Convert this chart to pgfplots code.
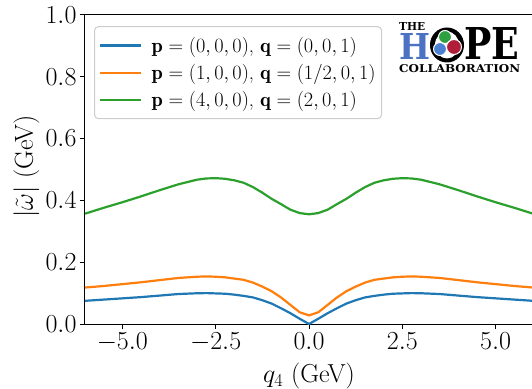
\RequirePackage{fix-cm}
\documentclass[border=0pt]{standalone}
\usepackage{fontspec}
\usepackage{graphicx}
\usepackage{pgfplots}
\pgfplotsset{compat=1.18}
\newfontfamily\logofont{DejaVu Serif}
\definecolor{tabblue}{RGB}{31,119,180}
\definecolor{taborange}{RGB}{255,127,14}
\definecolor{tabgreen}{RGB}{44,160,44}
\definecolor{hopeblue}{RGB}{76,114,196}
\definecolor{hopegreen}{RGB}{46,160,64}
\definecolor{hopered}{RGB}{176,30,58}
\definecolor{hopeblue2}{RGB}{76,128,208}
\begin{document}
\begin{tikzpicture}
\begin{axis}[
  name=ax, at={(0,0)}, anchor=south west,
  scale only axis, width=448bp, height=309bp,
  xmin=-6, xmax=6, ymin=0, ymax=1,
  xtick={-5,-2.5,0,2.5,5},
  ytick={0,0.2,0.4,0.6,0.8,1},
  xtick pos=bottom, ytick pos=left,
  tick align=outside, major tick length=5bp,
  tick style={black, line width=1bp},
  axis line style={line width=1bp},
  tick label style={font=\fontsize{26bp}{30bp}\selectfont},
  /pgf/number format/.cd, fixed, fixed zerofill, precision=1, /pgfplots/.cd,
  xlabel={$q_4$ (GeV)},
  ylabel={$|\tilde{\omega}|$ (GeV)},
  label style={font=\fontsize{26bp}{30bp}\selectfont},
  xlabel style={at={(axis description cs:0.5,-0.1909)}, anchor=base},
  ylabel style={at={(axis description cs:-0.1163,0.51)}, anchor=base},
  legend cell align=left,
  legend image code/.code={\draw[#1, line width=2.2bp] (0bp,0bp) -- (41bp,0bp);},
  legend style={at={(axis description cs:0.0201,0.964)}, anchor=north west,
    draw=black!20, line width=1bp, rounded corners=4bp, fill=white,
    fill opacity=0.8, text opacity=1,
    font=\fontsize{20.3bp}{24bp}\selectfont,
    inner xsep=4bp, inner ysep=8.5bp, row sep=6.5bp,
    /tikz/every odd column/.append style={column sep=8bp}},
]
\addplot[tabblue, line width=2.2bp] coordinates {
(-6,0.075)(-5.5,0.079)(-5,0.083)(-4.5,0.087)(-4,0.092)(-3.5,0.097)(-3,0.0995)(-2.75,0.100)(-2.5,0.099)(-2.25,0.098)(-2,0.095)(-1.75,0.091)(-1.5,0.086)(-1.25,0.077)(-1,0.066)(-0.75,0.051)(-0.5,0.035)(-0.25,0.017)(0,0.0)
(0.25,0.017)(0.5,0.035)(0.75,0.051)(1,0.066)(1.25,0.077)(1.5,0.086)(1.75,0.091)(2,0.095)(2.25,0.098)(2.5,0.099)(2.75,0.100)(3,0.0995)(3.5,0.097)(4,0.092)(4.5,0.087)(5,0.083)(5.5,0.079)(6,0.075)
};
\addlegendentry{$\mathbf{p}=(0,0,0)$, $\mathbf{q}=(0,0,1)$}
\addplot[taborange, line width=2.2bp] coordinates {
(-6,0.118)(-5.5,0.123)(-5,0.129)(-4.5,0.135)(-4,0.142)(-3.5,0.149)(-3,0.153)(-2.75,0.154)(-2.5,0.153)(-2.25,0.151)(-2,0.147)(-1.75,0.143)(-1.5,0.134)(-1.25,0.121)(-1,0.106)(-0.75,0.086)(-0.5,0.062)(-0.25,0.038)(0,0.028)
(0.25,0.038)(0.5,0.062)(0.75,0.086)(1,0.106)(1.25,0.121)(1.5,0.134)(1.75,0.143)(2,0.147)(2.25,0.151)(2.5,0.153)(2.75,0.154)(3,0.153)(3.5,0.149)(4,0.142)(4.5,0.135)(5,0.129)(5.5,0.123)(6,0.118)
};
\addlegendentry{$\mathbf{p}=(1,0,0)$, $\mathbf{q}=(1/2,0,1)$}
\addplot[tabgreen, line width=2.2bp] coordinates {
(-6,0.357)(-5.5,0.376)(-5,0.394)(-4.5,0.413)(-4,0.433)(-3.5,0.452)(-3,0.467)(-2.75,0.471)(-2.5,0.472)(-2.25,0.470)(-2,0.465)(-1.75,0.457)(-1.5,0.443)(-1.25,0.425)(-1,0.405)(-0.75,0.388)(-0.5,0.370)(-0.25,0.359)(0,0.355)
(0.25,0.359)(0.5,0.370)(0.75,0.388)(1,0.405)(1.25,0.425)(1.5,0.443)(1.75,0.457)(2,0.465)(2.25,0.470)(2.5,0.472)(2.75,0.471)(3,0.467)(3.5,0.452)(4,0.433)(4.5,0.413)(5,0.394)(5.5,0.376)(6,0.357)
};
\addlegendentry{$\mathbf{p}=(4,0,0)$, $\mathbf{q}=(2,0,1)$}
\end{axis}
% logo
\node[anchor=south west, inner sep=0pt] at (314bp,293bp) {\resizebox{26bp}{8bp}{\logofont\bfseries THE}};
\node[anchor=south west, inner sep=0pt, text=hopeblue] at (314bp,264bp) {\resizebox{31bp}{26bp}{\logofont\bfseries H}};
\fill[black] (362bp,279bp) ellipse [x radius=17bp, y radius=17.5bp];
\fill[white] (362bp,279bp) ellipse [x radius=12bp, y radius=13.5bp];
\fill[hopeblue2, draw=white, line width=1bp] (355bp,275bp) circle [radius=6.5bp];
\fill[hopegreen, draw=white, line width=1bp] (360bp,287bp) circle [radius=6.5bp];
\fill[hopered, draw=white, line width=1bp] (369bp,277bp) circle [radius=7.5bp];
\node[anchor=south west, inner sep=0pt] at (379bp,264bp) {\resizebox{55bp}{32bp}{\logofont\bfseries PE}};
\node[anchor=south west, inner sep=0pt] at (314bp,251bp) {\resizebox{121bp}{8bp}{\logofont\bfseries COLLABORATION}};
\pgfresetboundingbox
\path[use as bounding box] (-85bp,-65bp) rectangle (447bp,324bp);
\end{tikzpicture}
\end{document}
